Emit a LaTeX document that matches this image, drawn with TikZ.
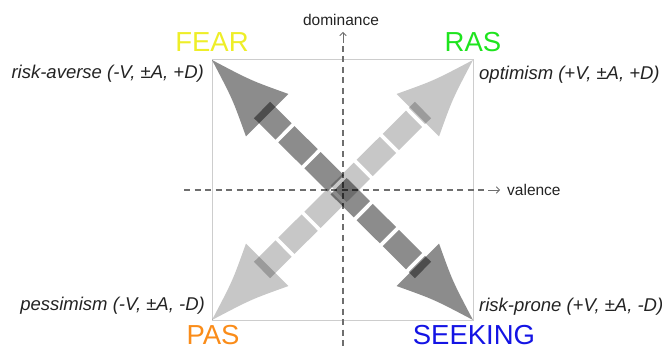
\documentclass[tikz,border=0pt]{standalone}
\usepackage{fontspec}
\setmainfont{Liberation Sans}
\usetikzlibrary{arrows.meta,calc}
\definecolor{fearyellow}{RGB}{238,238,40}
\definecolor{rasgreen}{RGB}{30,228,30}
\definecolor{pasorange}{RGB}{250,140,25}
\definecolor{seekblue}{RGB}{20,20,228}
\definecolor{axisgray}{RGB}{110,110,110}
\definecolor{framegray}{RGB}{205,205,205}
\definecolor{textdark}{RGB}{35,35,35}
\begin{document}
\begin{tikzpicture}[x=1pt,y=-1pt,
  frame/.style={draw=framegray,line width=1pt},
  axis/.style={draw=axisgray,line width=1.2pt,dash pattern=on 6pt off 4.5pt},
  axistip/.style={draw=axisgray,line width=0.9pt,-{Straight Barb[length=3pt,width=6.5pt]}},
  axislabel/.style={font=\fontsize{15.5}{18}\selectfont,text=textdark,inner sep=0pt},
  corner/.style={font=\fontsize{18.5}{21}\selectfont\itshape,text=textdark,inner sep=0pt},
  system/.style={font=\fontsize{27.5}{32}\selectfont,inner sep=0pt,anchor=base},
  shaft/.style={line width=23pt,dash pattern=on 32.8pt off 4pt,dash phase=2.4pt},
  darkgray/.style={fill=black,fill opacity=0.45},
  lightgray/.style={fill=black,fill opacity=0.22},
  arrowhead/.pic={
    \fill[#1] (0,0) .. controls (42,13) .. (78,30) -- (78,-30)
      .. controls (42,-13) .. (0,0) -- cycle;
  }
]
\useasboundingbox (0,0) rectangle (662,350);

% corners of the valence/dominance square
\coordinate (fearTip) at (212,60);
\coordinate (rasTip)  at (473,60);
\coordinate (pasTip)  at (212,320);
\coordinate (seekTip) at (473,320);

\draw[frame] (fearTip) rectangle (seekTip);

% axes
\coordinate (domTop) at (343,46);
\coordinate (domBot) at (343,350);
\coordinate (domArrowA) at (343,43);
\coordinate (domArrowB) at (343,32);
\coordinate (valLeft) at (184,190);
\coordinate (valRight) at (485,190);
\coordinate (valArrowA) at (488,190);
\coordinate (valArrowB) at (500,190);
\draw[axis] (domTop) -- (domBot);
\draw[axistip] (domArrowA) -- (domArrowB);
\draw[axis] (valLeft) -- (valRight);
\draw[axistip] (valArrowA) -- (valArrowB);

\node[axislabel,anchor=base] (domLabel) at (341,26) {dominance};
\node[axislabel,anchor=base west] (valLabel) at (507,196) {valence};

% FEAR <-> SEEKING double arrow (dark)
\draw[shaft,draw=black,draw opacity=0.45]
  ($(fearTip)+(50,50)$) -- ($(seekTip)+(-50,-50)$);
\pic[rotate=-45] at (fearTip) {arrowhead=darkgray};
\pic[rotate=135] at (seekTip) {arrowhead=darkgray};

% PAS <-> RAS double arrow (light)
\draw[shaft,draw=black,draw opacity=0.22]
  ($(pasTip)+(50,-50)$) -- ($(rasTip)+(-50,50)$);
\pic[rotate=45] at (pasTip) {arrowhead=lightgray};
\pic[rotate=-135] at (rasTip) {arrowhead=lightgray};

% corner descriptions
\node[corner,anchor=base east] (averse) at (204,79) {risk-averse (-V, ±A, +D)};
\node[corner,anchor=base west] (optim) at (479,80) {optimism (+V, ±A, +D)};
\node[corner,anchor=base east] (pessim) at (205,310) {pessimism (-V, ±A, -D)};
\node[corner,anchor=base west] (prone) at (479,311) {risk-prone (+V, ±A, -D)};

% system names
\node[system,text=fearyellow] (fear) at (212,52) {FEAR};
\node[system,text=rasgreen] (ras) at (473,52) {RAS};
\node[system,text=pasorange] (pas) at (213,344) {PAS};
\node[system,text=seekblue] (seek) at (474,344) {SEEKING};
\end{tikzpicture}
\end{document}
